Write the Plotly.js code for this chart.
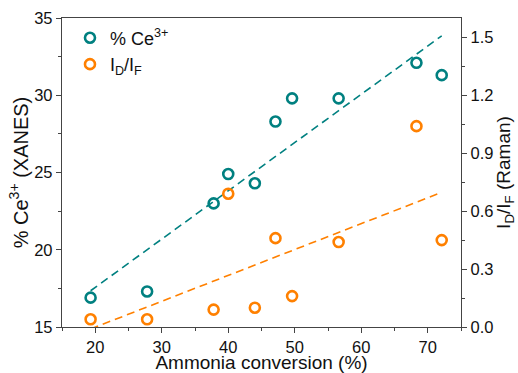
<!DOCTYPE html>
<html>
<head>
<meta charset="utf-8">
<script src="https://cdn.plot.ly/plotly-3.0.1.min.js"></script>
<style>
  html, body { margin: 0; padding: 0; background: #fff; }
  #chart { width: 518px; height: 373px; }
</style>
</head>
<body>
<div id="chart"></div>
<script>
// Ammonia conversion (%) for each sample
const conversion = [19.3, 27.8, 37.8, 40.0, 44.0, 47.1, 49.6, 56.6, 68.3, 72.1];
// Ce3+ fraction from XANES (%)
const ce3 = [16.9, 17.3, 23.0, 24.9, 24.3, 28.3, 29.8, 29.8, 32.1, 31.3];
// Raman intensity ratio ID/IF
const idif = [0.04, 0.04, 0.09, 0.69, 0.10, 0.46, 0.16, 0.44, 1.04, 0.45];

const teal = '#008080';
const orange = '#FF8000';
const axisColor = '#444';
const fontFamily = 'Arial, "Liberation Sans", sans-serif';

// ordinary least-squares line through (xs, ys), evaluated at the data extremes
function linearFit(xs, ys) {
  const n = xs.length;
  const mx = xs.reduce((a, b) => a + b, 0) / n;
  const my = ys.reduce((a, b) => a + b, 0) / n;
  let sxy = 0, sxx = 0;
  for (let i = 0; i < n; i++) {
    sxy += (xs[i] - mx) * (ys[i] - my);
    sxx += (xs[i] - mx) * (xs[i] - mx);
  }
  const slope = sxy / sxx;
  const icpt = my - slope * mx;
  const x0 = Math.min(...xs), x1 = Math.max(...xs);
  return { x: [x0, x1], y: [icpt + slope * x0, icpt + slope * x1] };
}

const ceFit = linearFit(conversion, ce3);
const ramanFit = linearFit(conversion, idif);

const traces = [
  {
    x: ceFit.x, y: ceFit.y, mode: 'lines', yaxis: 'y',
    line: { color: teal, width: 1.6, dash: '8px,5px' },
    showlegend: false, hoverinfo: 'skip'
  },
  {
    x: ramanFit.x, y: ramanFit.y, mode: 'lines', yaxis: 'y2',
    line: { color: orange, width: 1.6, dash: '8px,5px' },
    showlegend: false, hoverinfo: 'skip'
  },
  {
    x: conversion, y: ce3, mode: 'markers', yaxis: 'y',
    name: '% Ce<sup>3+</sup>',
    marker: { symbol: 'circle-open', size: 10, color: teal, line: { width: 2.6, color: teal } }
  },
  {
    x: conversion, y: idif, mode: 'markers', yaxis: 'y2',
    name: 'I<sub>D</sub>/I<sub>F</sub>',
    marker: { symbol: 'circle-open', size: 10, color: orange, line: { width: 2.6, color: orange } }
  }
];

const tickFont = { family: fontFamily, size: 16.5, color: '#111' };
const titleFont = { family: fontFamily, size: 20, color: '#111' };

const layout = {
  width: 518,
  height: 373,
  margin: { l: 62, r: 57, t: 18, b: 46 },
  paper_bgcolor: '#fff',
  plot_bgcolor: '#fff',
  font: { family: fontFamily, color: '#111' },
  showlegend: true,
  legend: {
    x: 0.02, y: 0.995, xanchor: 'left', yanchor: 'top',
    bgcolor: 'rgba(0,0,0,0)',
    font: { family: fontFamily, size: 18, color: '#111' },
    traceorder: 'normal'
  },
  xaxis: {
    range: [15, 75],
    dtick: 10,
    tick0: 0,
    ticks: 'outside', ticklen: 5, tickwidth: 1, tickcolor: axisColor,
    minor: { dtick: 5, ticks: 'outside', ticklen: 3, tickcolor: axisColor },
    showline: true, linecolor: axisColor, linewidth: 1.2, mirror: true,
    showgrid: false, zeroline: false,
    tickfont: tickFont,
    title: { text: 'Ammonia conversion (%)', font: { family: fontFamily, size: 19, color: '#111' }, standoff: 5 }
  },
  yaxis: {
    range: [15, 35],
    dtick: 5,
    ticks: 'outside', ticklen: 5, tickwidth: 1, tickcolor: axisColor,
    minor: { dtick: 2.5, ticks: 'outside', ticklen: 3, tickcolor: axisColor },
    showline: true, linecolor: axisColor, linewidth: 1.2,
    showgrid: false, zeroline: false,
    tickfont: tickFont,
    title: { text: '% Ce<sup>3+</sup> (XANES)', font: titleFont, standoff: 0 }
  },
  yaxis2: {
    overlaying: 'y', side: 'right',
    range: [0, 1.6],
    dtick: 0.3, tick0: 0, tickformat: '.1f',
    ticks: 'outside', ticklen: 5, tickwidth: 1, tickcolor: axisColor,
    minor: { dtick: 0.15, ticks: 'outside', ticklen: 3, tickcolor: axisColor },
    showline: true, linecolor: axisColor, linewidth: 1.2,
    showgrid: false, zeroline: false,
    tickfont: tickFont,
    title: { text: 'I<sub>D</sub>/I<sub>F</sub> (Raman)', font: { family: fontFamily, size: 19, color: '#111' }, standoff: 2 }
  }
};

Plotly.newPlot('chart', traces, layout, { displayModeBar: false, staticPlot: true });
</script>
</body>
</html>
